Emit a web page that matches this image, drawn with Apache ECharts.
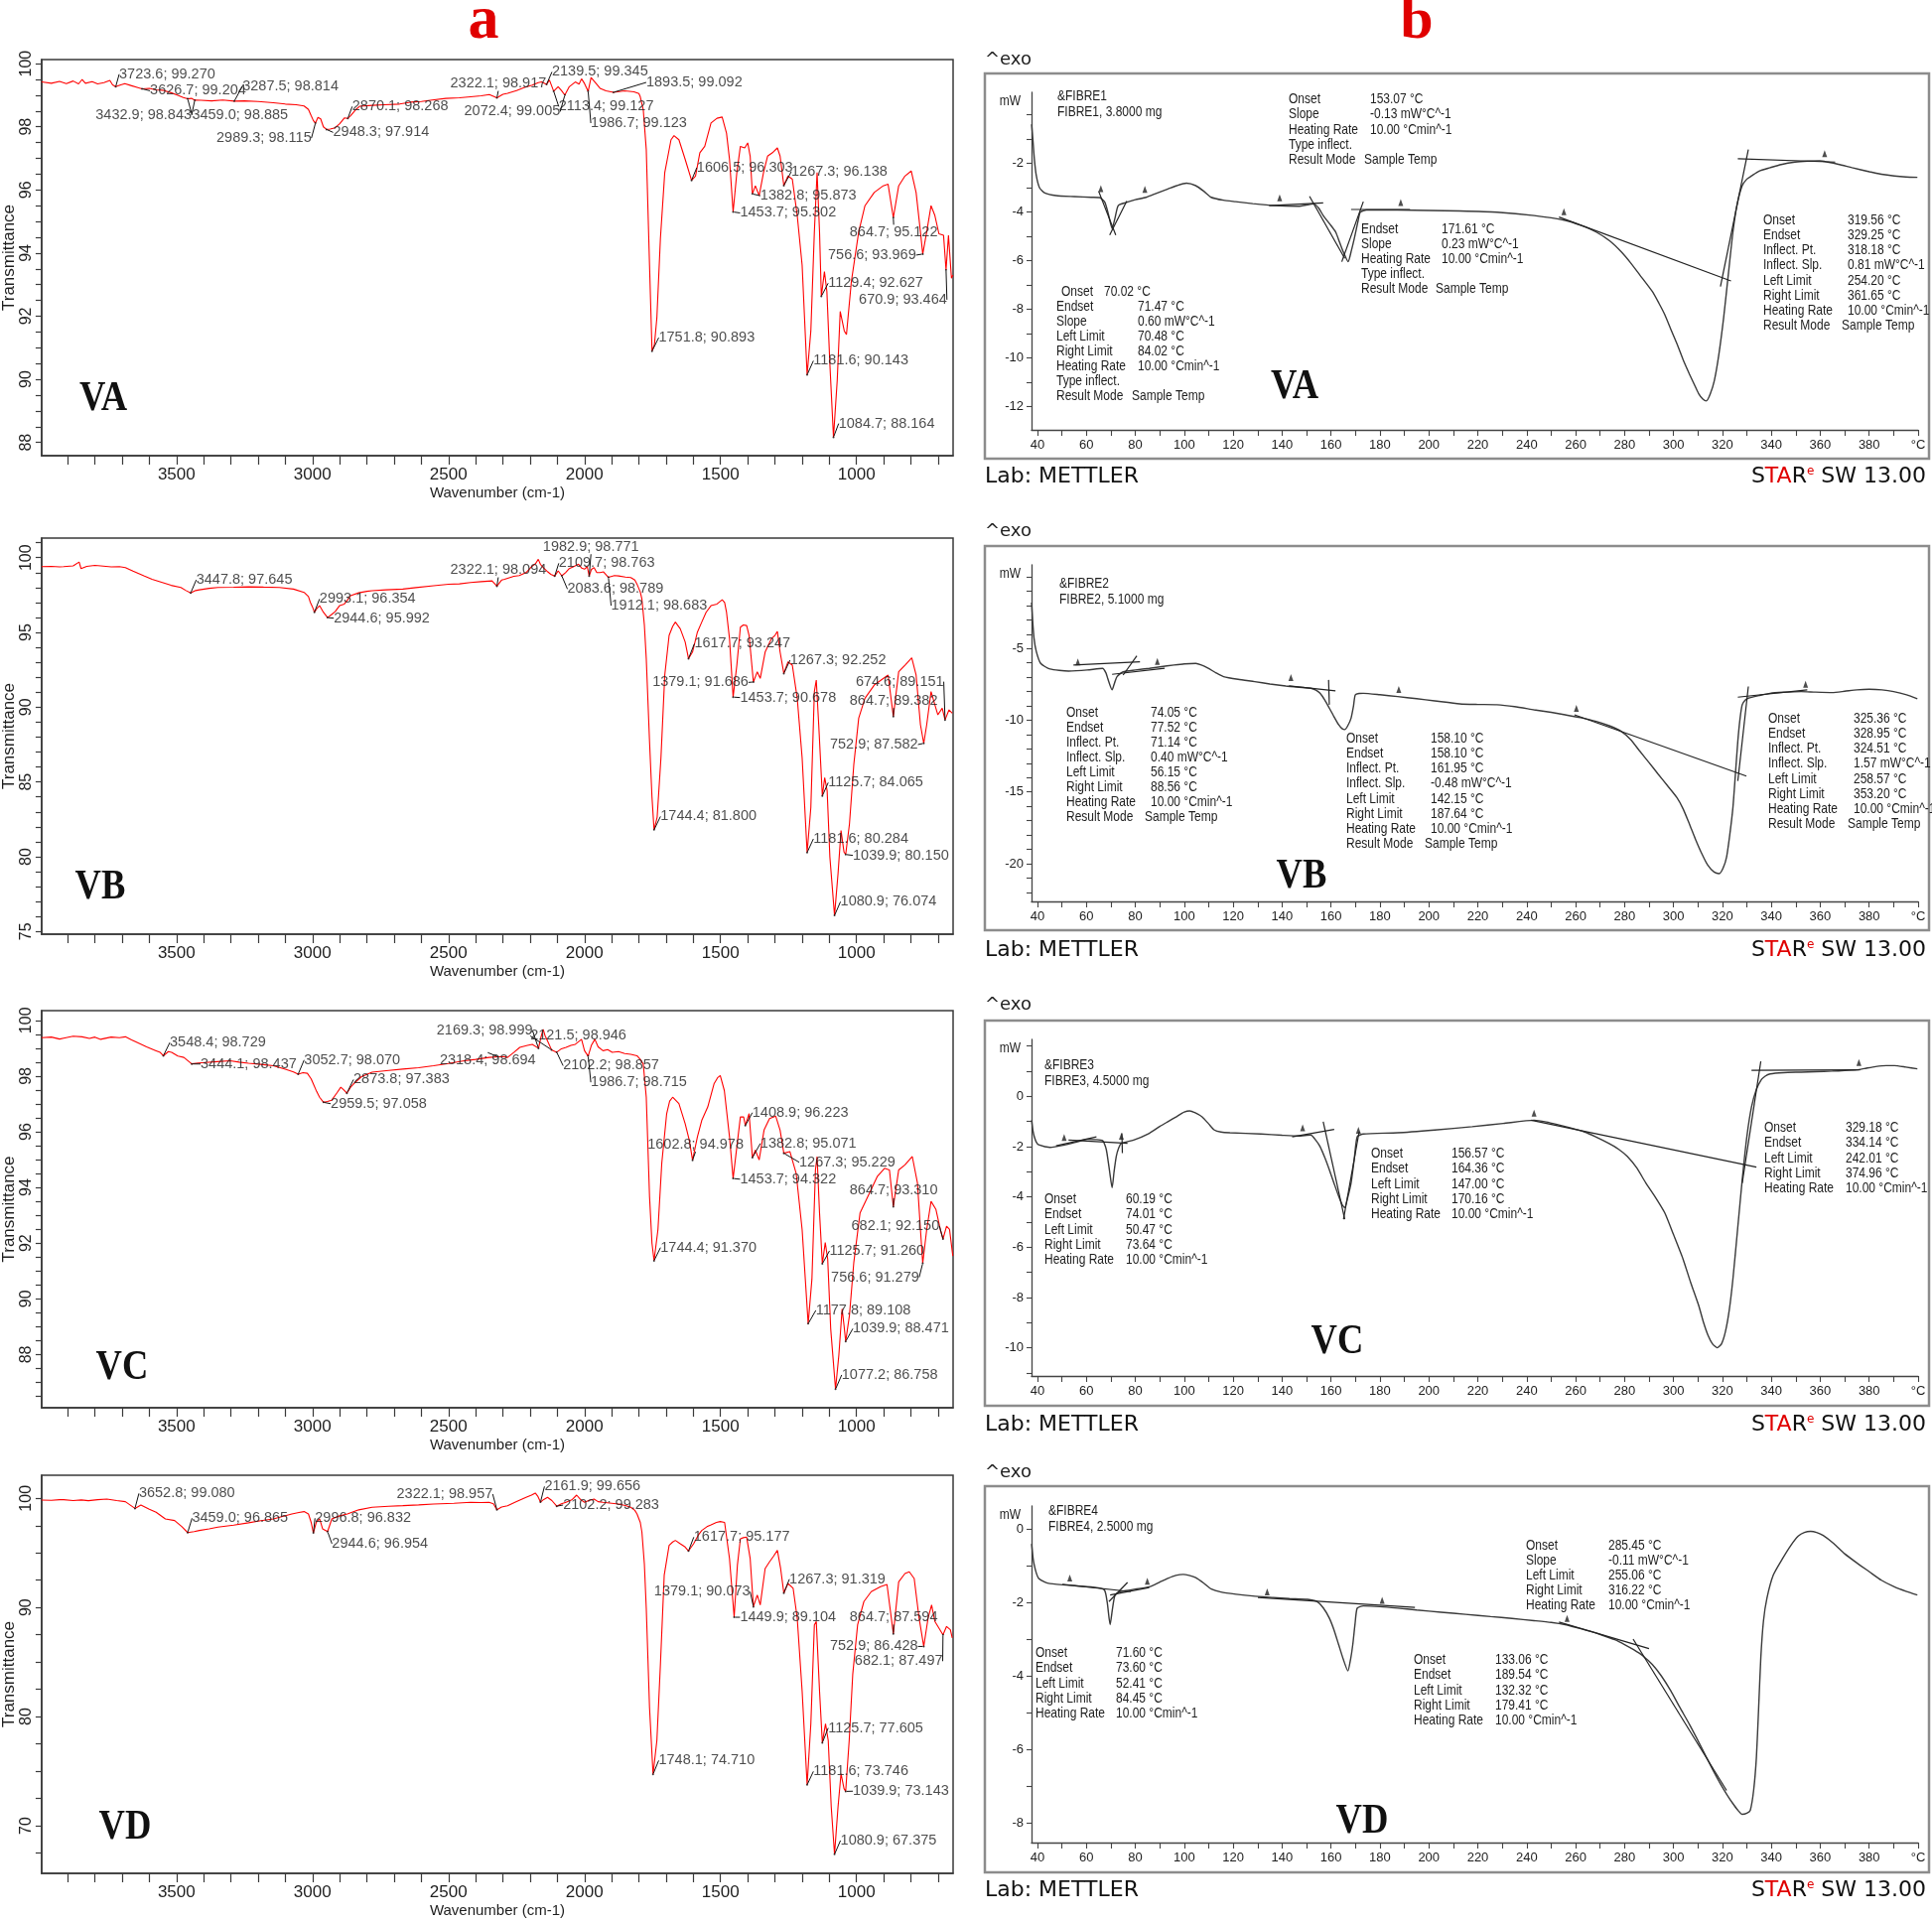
<!DOCTYPE html>
<html><head><meta charset="utf-8">
<script src="https://cdn.jsdelivr.net/npm/echarts@6/dist/echarts.min.js"></script>
<style>html,body{margin:0;padding:0;background:#fff}#c{width:1946px;height:1935px}</style>
</head><body><div id="c"></div>
<script>
// ================= DATA =================
// FTIR spectra (wavenumber cm-1, transmittance %)
const ftirA_wn = [3996,3960,3930,3905,3880,3860,3847,3835,3810,3790,3767,3745,3735,3723.6,3705,3690,3665,3645,3626.7,3600,3575,3552,3520,3495,3475,3459.0,3445,3432.9,3410,3371,3330,3287.5,3250,3200,3144,3100,3060,3031,3015,3005,2997,2989.3,2980,2970,2960,2948.3,2935,2917,2900,2883,2870.1,2860,2840,2827,2780,2736,2680,2640,2600,2560,2510,2460,2419,2380,2350,2322.1,2300,2283,2250,2220,2192,2170,2158,2139.5,2129,2113.4,2097,2085,2072.4,2056,2034,2020,2011,2000,1986.7,1976,1962,1943,1921,1893.5,1852,1818,1800,1795,1784,1773,1761,1751.8,1743,1734,1721,1705,1682,1671,1653,1630,1606.5,1592,1576,1558,1535,1513,1494,1478,1467,1453.7,1440,1427,1411,1400,1391,1382.8,1372,1358,1342,1327,1309,1291,1281,1267.3,1252,1236,1218,1200,1181.6,1168,1155,1145,1136,1129.4,1118,1109,1098,1084.7,1071,1060,1045,1037,1019,992,969,935,902,884,864.7,845,822,799,781,765,756.6,742,726,712,697,680,670.9,662,651,646];
const ftirA_T = [99.42,99.38,99.44,99.37,99.45,99.36,99.50,99.38,99.43,99.36,99.40,99.47,99.33,99.270,99.33,99.37,99.30,99.25,99.204,99.22,99.17,99.16,99.08,99.00,98.93,98.885,98.90,98.843,98.84,98.82,98.85,98.814,98.82,98.80,98.76,98.72,98.70,98.66,98.55,98.35,98.20,98.115,98.30,98.25,98.00,97.914,97.93,97.97,98.10,98.28,98.268,98.35,98.55,98.65,98.68,98.70,98.72,98.78,98.80,98.85,98.90,98.92,98.95,98.98,99.02,98.917,99.03,99.06,99.15,99.25,99.32,99.40,99.42,99.345,99.48,99.127,99.27,99.15,99.005,99.27,99.42,99.35,99.52,99.37,99.123,99.56,99.42,99.22,99.14,99.092,99.14,99.11,99.05,98.95,98.54,97.28,93.62,90.893,91.10,91.95,94.46,96.55,97.59,97.72,97.59,96.97,96.303,96.44,97.18,97.38,98.12,98.27,98.31,97.80,96.97,95.302,96.55,97.38,97.33,97.49,97.07,95.873,96.13,95.82,96.55,97.07,97.18,97.33,97.07,96.138,96.44,96.34,95.19,93.62,90.143,91.53,94.67,96.55,94.67,92.627,93.41,92.78,90.48,88.164,89.96,92.15,91.53,91.42,93.10,94.67,95.50,95.92,96.13,96.18,95.122,96.13,96.44,96.60,95.92,94.67,93.969,94.67,95.50,95.19,94.61,94.56,93.464,94.56,93.20,93.30];

const ftirB_wn = [3996,3960,3930,3915,3880,3858,3851,3830,3800,3779,3740,3710,3688,3660,3620,3590,3552,3520,3484,3465,3447.8,3430,3416,3380,3348,3290,3235,3180,3122,3070,3031,3015,3008,3000,2993.1,2984,2974,2960,2944.6,2930,2917,2900,2883,2870,2860,2830,2800,2781,2730,2668,2620,2555,2500,2460,2419,2380,2340,2322.1,2305,2294,2260,2240,2215,2195,2180,2170,2162,2152,2135,2124,2109.7,2097,2083.6,2070,2056,2040,2022,2010,2000,1990,1982.9,1975,1965,1955,1943,1930,1912.1,1890,1875,1850,1830,1815,1807,1795,1789,1780,1773,1761,1752,1744.4,1733,1719,1705,1689,1676,1666,1648,1630,1617.7,1603,1585,1569,1553,1535,1513,1494,1485,1478,1467,1453.7,1440,1427,1416,1404,1395,1379.1,1365,1354,1336,1313,1300,1291,1281,1267.3,1252,1236,1218,1200,1181.6,1168,1155,1148,1139,1125.7,1117,1108,1098,1080.9,1068,1057,1046,1039.9,1026,1010,992,969,935,902,884,864.7,845,822,797,781,765,752.9,742,726,712,701,685,674.6,660,648];
const ftirB_T = [99.40,99.42,99.38,99.40,99.45,99.71,99.27,99.42,99.48,99.45,99.38,99.40,99.34,99.10,98.78,98.55,98.34,98.15,98.01,97.80,97.645,97.80,97.85,97.95,98.01,98.02,98.05,98.03,98.01,97.90,97.68,97.40,97.01,96.70,96.354,96.60,96.79,96.35,95.992,96.20,96.39,96.80,96.90,97.20,97.46,97.65,97.75,97.79,97.85,97.90,98.00,98.12,98.22,98.25,98.34,98.40,98.45,98.094,98.50,98.56,98.75,98.80,99.00,99.40,99.60,99.89,99.55,99.34,99.05,98.89,98.763,99.12,98.789,99.00,99.27,99.40,99.56,99.30,99.23,99.40,98.771,99.20,99.34,99.00,99.00,99.05,98.683,98.80,98.78,98.70,98.67,98.50,98.23,97.70,97.23,95.50,93.25,87.72,84.00,81.800,82.64,86.62,92.15,94.80,95.40,95.69,95.24,94.36,93.247,93.69,95.02,95.69,96.35,96.79,96.90,97.19,97.00,96.35,94.58,90.678,92.81,95.35,95.50,95.46,94.80,91.686,92.37,91.93,93.69,94.58,94.80,95.07,93.69,92.252,93.03,92.81,90.60,86.62,80.284,83.29,91.04,91.81,88.83,84.065,85.29,84.40,79.98,76.074,78.87,81.75,80.31,80.150,82.19,86.17,89.27,90.60,91.48,91.92,92.15,89.382,92.37,92.81,93.30,92.15,88.83,87.582,88.83,91.04,90.16,89.49,89.93,89.151,89.82,89.60];

const ftirC_wn = [3996,3960,3930,3915,3880,3847,3820,3800,3779,3740,3710,3688,3665,3643,3610,3575,3560,3548.4,3530,3518,3495,3473,3444.1,3420,3394,3350,3303,3270,3235,3190,3144,3100,3070,3052.7,3035,3019,3005,2997,2985,2974,2959.5,2945,2930,2910,2896,2885,2873.8,2860,2849,2820,2781,2720,2668,2610,2555,2500,2442,2400,2351,2318.4,2300,2283,2260,2238,2210,2192,2169.3,2160,2152,2145,2136,2121.5,2102.2,2085,2068,2050,2034,2020,2011,2000,1986.7,1975,1962,1950,1932,1915,1898,1875,1852,1830,1807,1795,1784,1773,1761,1752,1744.4,1730,1716,1698,1687,1676,1653,1630,1615,1602.8,1585,1569,1547,1524,1510,1501,1486,1467,1453.7,1440,1427,1415,1408.9,1395,1382.8,1372,1358,1340,1320,1297,1281,1267.3,1245,1222,1200,1177.8,1164,1151,1145,1136,1125.7,1115,1106,1095,1077.2,1065,1053,1046,1039.9,1026,1010,987,958,924,897,879,864.7,845,822,795,776,765,756.6,742,726,708,692,682.1,669,658,646];
const ftirC_T = [99.38,99.40,99.33,99.36,99.43,99.41,99.35,99.40,99.32,99.40,99.38,99.41,99.30,99.20,99.05,98.91,98.85,98.729,98.88,98.85,98.72,98.67,98.437,98.47,98.49,98.52,98.55,98.50,98.46,98.42,98.37,98.25,98.15,98.070,98.12,98.10,97.90,97.72,97.45,97.24,97.058,97.09,97.13,97.40,97.60,97.50,97.383,97.60,97.72,97.98,98.14,98.20,98.25,98.30,98.37,98.45,98.55,98.60,98.67,98.694,98.70,98.67,98.85,99.03,99.10,99.14,98.999,99.40,99.68,99.45,99.26,98.946,98.857,98.98,99.03,99.10,99.14,99.25,99.32,98.91,98.715,99.10,99.32,99.05,98.91,98.95,98.85,98.88,98.81,98.78,98.73,98.60,98.43,97.24,93.68,92.00,91.370,92.49,94.87,96.65,97.10,97.24,97.01,96.29,95.70,94.978,95.82,96.41,96.89,97.72,97.95,98.02,97.48,95.82,94.322,95.46,96.53,96.53,96.223,96.65,95.071,95.34,94.99,96.06,96.47,96.56,96.06,95.229,95.29,94.51,92.49,89.108,90.71,94.63,95.11,93.09,91.260,92.02,91.43,88.93,86.758,87.98,89.64,89.05,88.471,89.41,91.31,93.09,93.68,94.39,94.69,94.63,93.310,94.63,94.81,95.11,94.16,92.49,91.279,92.49,93.50,93.21,92.49,92.150,92.61,92.49,91.54];

const ftirD_wn = [3996,3960,3930,3915,3880,3850,3824,3790,3756,3720,3688,3652.8,3631,3600,3575,3541,3507,3480,3459.0,3435,3416,3380,3348,3290,3235,3190,3144,3110,3076,3050,3031,3015,3005,2996.8,2986,2974,2963,2944.6,2929,2900,2872,2830,2781,2720,2668,2610,2555,2480,2419,2380,2351,2335,2322.1,2305,2283,2250,2215,2195,2181,2172,2161.9,2150,2136,2120,2102.2,2085,2068,2045,2029,2015,2000,1985,1965,1950,1932,1900,1875,1850,1830,1815,1807,1795,1789,1780,1773,1761,1748.1,1734,1721,1707,1689,1676,1666,1648,1630,1617.7,1599,1580,1569,1550,1535,1515,1501,1485,1478,1467,1449.9,1438,1427,1416,1404,1391,1379.1,1365,1354,1336,1320,1305,1291,1279,1267.3,1252,1233,1218,1200,1181.6,1168,1155,1148,1136,1125.7,1114,1104,1093,1080.9,1068,1057,1046,1039.9,1027,1014,996,973,946,912,888,864.7,845,822,806,788,770,752.9,737,724,712,697,682.1,669,655,648];
const ftirD_T = [99.85,99.82,99.88,99.88,99.80,99.86,99.79,99.88,99.94,99.80,99.70,99.080,99.39,99.00,98.73,98.12,97.97,97.40,96.865,96.95,97.06,97.20,97.36,97.55,97.76,97.95,98.12,98.35,98.57,98.70,98.79,98.57,97.80,96.832,97.82,98.12,97.21,96.954,98.12,98.40,98.57,98.95,99.18,99.28,99.33,99.40,99.48,99.55,99.64,99.62,99.64,99.50,98.957,99.20,99.33,99.70,100.09,100.30,100.49,100.20,99.656,99.90,100.09,99.80,99.283,99.50,99.64,99.90,100.30,99.90,99.64,99.80,99.94,99.70,99.64,99.55,99.48,99.35,99.18,98.90,98.57,97.80,96.91,94.00,89.93,80.83,74.710,77.80,84.77,92.96,95.69,96.00,96.15,95.84,95.54,95.177,95.84,96.70,97.06,97.40,97.57,97.80,97.88,97.80,97.67,94.48,89.104,93.87,96.30,96.40,96.45,94.48,90.073,91.14,90.23,93.57,94.18,94.70,95.24,93.57,91.319,92.20,91.75,89.02,82.35,73.746,79.33,88.41,88.72,82.35,77.605,79.33,77.80,71.73,67.375,71.73,74.77,73.40,73.143,77.80,83.86,88.41,90.54,91.45,91.90,92.11,87.594,92.35,93.11,93.27,92.66,89.02,86.428,89.02,90.23,88.72,88.11,87.497,88.26,87.96,87.20];

// Labelled FTIR peaks (wavenumber, transmittance)
const peaksA_wn = [3723.6,3626.7,3287.5,3432.9,3459.0,2870.1,2989.3,2948.3,2322.1,2072.4,2139.5,2113.4,1893.5,1986.7,1606.5,1267.3,1382.8,1453.7,864.7,756.6,1129.4,670.9,1751.8,1181.6,1084.7];
const peaksA_T  = [99.270,99.204,98.814,98.843,98.885,98.268,98.115,97.914,98.917,99.005,99.345,99.127,99.092,99.123,96.303,96.138,95.873,95.302,95.122,93.969,92.627,93.464,90.893,90.143,88.164];
const peaksB_wn = [3447.8,2993.1,2944.6,2322.1,1982.9,2109.7,2083.6,1912.1,1744.4,1617.7,1379.1,1453.7,1267.3,1181.6,1125.7,1080.9,1039.9,864.7,752.9,674.6];
const peaksB_T  = [97.645,96.354,95.992,98.094,98.771,98.763,98.789,98.683,81.800,93.247,91.686,90.678,92.252,80.284,84.065,76.074,80.150,89.382,87.582,89.151];
const peaksC_wn = [3548.4,3444.1,3052.7,2318.4,2959.5,2873.8,2169.3,2121.5,2102.2,1986.7,1744.4,1602.8,1408.9,1382.8,1453.7,1267.3,864.7,682.1,1125.7,756.6,1177.8,1039.9,1077.2];
const peaksC_T  = [98.729,98.437,98.070,98.694,97.058,97.383,98.999,98.946,98.857,98.715,91.370,94.978,96.223,95.071,94.322,95.229,93.310,92.150,91.260,91.279,89.108,88.471,86.758];
const peaksD_wn = [3652.8,3459.0,2996.8,2944.6,2322.1,2161.9,2102.2,1748.1,1617.7,1379.1,1449.9,1267.3,1181.6,1125.7,1039.9,1080.9,864.7,752.9,682.1];
const peaksD_T  = [99.080,96.865,96.832,96.954,98.957,99.656,99.283,74.710,95.177,90.073,89.104,91.319,73.746,77.605,73.143,67.375,87.594,86.428,87.497];

// DSC curves (temperature °C, heat flow mW)
const dscA_T  = [37.6,38.1,38.7,39.5,40.8,43,47.6,55,62,65.4,67.5,69,70.5,71.8,73,76,80,84.4,89,93.3,97,100.9,104.7,108,111,116,121,128,136.5,146.6,153,155,156.8,159.5,161.9,163.5,165,167,168.3,169.5,171,172,174.5,187.2,200,212.6,227.8,243,255.7,262,268.4,274,278.6,282.5,286.2,291.3,294,296.4,299,301.5,304,306.5,308.5,310.3,312,313.4,315,316.7,318.5,320.5,322.5,324.3,326,328.1,330,331.9,335,339.5,344,349.7,355,359.8,363,367.4,373,380.1,385,390.3,395,399.7];
const dscA_mW = [-0.40,-1.00,-1.80,-2.50,-3.00,-3.22,-3.33,-3.37,-3.40,-3.41,-3.60,-4.10,-4.69,-4.20,-3.74,-3.62,-3.50,-3.40,-3.22,-3.06,-2.92,-2.82,-2.92,-3.15,-3.40,-3.52,-3.58,-3.66,-3.74,-3.77,-3.67,-3.85,-4.15,-4.50,-4.83,-5.25,-5.64,-6.05,-5.60,-5.10,-4.40,-4.01,-3.92,-3.92,-3.94,-3.96,-4.01,-4.15,-4.35,-4.55,-4.83,-5.20,-5.64,-6.10,-6.59,-7.27,-7.75,-8.22,-8.85,-9.45,-10.10,-10.67,-11.10,-11.48,-11.70,-11.78,-11.50,-10.94,-9.90,-8.36,-6.50,-4.83,-3.70,-2.92,-2.65,-2.52,-2.32,-2.18,-2.05,-1.95,-1.91,-1.90,-1.95,-2.04,-2.18,-2.35,-2.45,-2.52,-2.56,-2.58];
const dscB_T  = [37.6,38,38.6,39.5,41.3,45.1,52.7,60.3,66.6,68,68.7,70.5,71.5,72.5,75,80,85.7,90,95.8,100,104.7,107,109.8,113,116.1,122,128.8,135,141.5,147,151.7,153.8,155.5,157.5,159.3,161.2,163.1,164.5,165.6,166.8,168.2,169.2,169.9,171.5,173.2,180,187.2,195,202.4,212.6,220,227.8,235,243,250,255.7,262,268.4,274,278.6,282.5,286.2,290,293.8,297.5,301.4,304,306.5,309,311.6,314,316.6,318.7,320.3,321.7,323,324.3,325.3,326.3,327.2,328.1,329.3,330.6,335,339.5,345,352.2,358,364.9,370,375,380,385.2,390,395.3,399.7];
const dscB_mW = [-1.8,-3.0,-4.3,-5.2,-6.04,-6.43,-6.57,-6.50,-6.38,-6.70,-7.08,-7.88,-7.40,-6.96,-6.62,-6.50,-6.38,-6.28,-6.15,-6.07,-6.04,-6.15,-6.38,-6.70,-6.96,-7.15,-7.31,-7.47,-7.61,-7.70,-7.77,-7.90,-8.12,-8.60,-9.15,-9.75,-10.31,-10.58,-10.65,-10.40,-9.85,-9.00,-8.23,-8.13,-8.12,-8.22,-8.35,-8.50,-8.65,-8.86,-8.90,-8.92,-9.05,-9.27,-9.45,-9.62,-9.82,-10.08,-10.40,-10.77,-11.35,-12.15,-12.95,-13.77,-14.55,-15.39,-16.20,-17.23,-18.30,-19.31,-20.10,-20.58,-20.69,-20.30,-19.54,-18.00,-16.08,-13.80,-11.46,-9.90,-8.92,-8.60,-8.46,-8.28,-8.12,-8.05,-8.00,-8.04,-8.07,-7.98,-7.88,-7.84,-7.88,-8.00,-8.23,-8.51];
const dscC_T  = [37.6,38.2,38.7,39.5,40.5,45.1,51.4,56,60.3,64,66.6,67.8,68.4,69.5,70.5,71.3,72.2,73.2,74.3,79.3,85.7,90,93.3,97,100,102.2,104.5,107.3,110,112.3,115,118.7,131.4,140,146.6,151.7,153.8,155.5,157.5,159.3,161.2,163.1,164.5,165.6,166.9,168.2,169.5,170.7,173.2,187.2,202.4,217.7,230.4,243,248,253.2,258,263.4,268,273.5,277.5,281.1,285,288.7,292.5,296.4,300,303.9,307,310.3,312.3,314.1,316,317.9,319.6,321.2,322.8,324.3,326.2,328.1,330,331.9,333.8,335.7,337.5,339.5,345,352.2,358,364.9,370,375,378,382.6,387,390.3,395,399.7];
const dscC_mW = [-0.95,-1.40,-1.61,-1.82,-1.93,-2.03,-1.93,-1.82,-1.71,-1.72,-1.76,-2.00,-2.26,-3.00,-3.64,-3.00,-2.39,-2.05,-1.87,-1.74,-1.47,-1.20,-1.01,-0.80,-0.63,-0.58,-0.66,-0.82,-1.10,-1.34,-1.42,-1.45,-1.50,-1.55,-1.58,-1.54,-1.75,-2.00,-2.45,-2.92,-3.45,-3.97,-4.30,-4.43,-4.00,-3.45,-2.50,-1.61,-1.50,-1.45,-1.34,-1.21,-1.08,-0.95,-1.02,-1.14,-1.26,-1.41,-1.60,-1.87,-2.10,-2.39,-2.85,-3.45,-4.00,-4.63,-5.50,-6.47,-7.40,-8.32,-9.00,-9.50,-9.85,-10.00,-9.85,-9.37,-8.50,-7.26,-5.30,-3.32,-1.60,-0.42,0.25,0.63,0.80,0.89,0.94,0.96,0.98,1.00,1.02,1.05,1.10,1.18,1.22,1.22,1.16,1.09];
const dscD_T  = [37.6,38.2,38.7,39.5,40.5,43,45.1,55.2,64.1,67.4,68.5,69.7,70.6,71.7,73.5,75.5,80,85.7,90,93.3,96.5,99.6,102,104.7,108,111.1,115,121.2,128,136.4,143,150.4,154.2,156.8,159.3,161.2,163.1,165,166.9,168,168.9,169.8,170.7,173.2,180,187.2,195,205,215,225.3,234,243,250,255.7,261,265.9,271,276,280,283.7,287.5,291.3,295,298.9,302.5,306.5,309.5,312.8,316,319.2,322,324.3,326.2,328.1,330,331.4,332.8,333.9,334.8,335.7,336.8,338.2,340.8,344.6,348,351,353.5,356.1,358.5,361.2,365.5,370,375,380.1,385,390.3,395,399.7];
const dscD_mW = [-0.41,-0.80,-0.99,-1.20,-1.35,-1.45,-1.49,-1.55,-1.60,-1.67,-2.00,-2.61,-2.20,-1.80,-1.72,-1.69,-1.64,-1.58,-1.45,-1.35,-1.27,-1.24,-1.27,-1.33,-1.48,-1.64,-1.72,-1.78,-1.83,-1.87,-1.90,-1.92,-1.98,-2.15,-2.43,-2.75,-3.15,-3.55,-3.87,-3.55,-3.15,-2.60,-2.16,-2.10,-2.12,-2.16,-2.21,-2.27,-2.33,-2.39,-2.44,-2.50,-2.55,-2.61,-2.70,-2.79,-2.90,-3.02,-3.15,-3.29,-3.46,-3.69,-4.00,-4.41,-4.85,-5.32,-5.70,-6.13,-6.55,-6.94,-7.25,-7.48,-7.65,-7.77,-7.74,-7.66,-7.10,-6.22,-4.90,-3.51,-2.50,-1.89,-1.26,-0.81,-0.45,-0.20,-0.10,-0.07,-0.10,-0.18,-0.40,-0.68,-0.93,-1.17,-1.40,-1.58,-1.70,-1.80];

// DSC evaluation tangents [T1, mW1, T2, mW2]
const tanA = [[65,-3.15,72,-4.95],[69.5,-4.95,76.5,-3.55],[134.7,-3.74,156.8,-3.63],[151.2,-3.36,165.6,-5.91],[173.2,-3.58,164.4,-6.05],[168.2,-3.9,192.3,-3.9],[253.2,-4.21,323.5,-6.84],[319.2,-7.07,330.6,-1.43],[326.3,-1.81,366.1,-1.95]];
const tanB = [[54.7,-6.15,81.9,-5.92],[70.5,-6.8,92,-6.38],[75,-6.85,80.6,-5.51],[142.8,-7.61,161.8,-7.95],[159,-7.19,159.3,-8.92],[259.5,-9.62,329.8,-13.89],[326.3,-14.23,330.6,-7.65],[326.3,-8.39,354.7,-7.88]];
const tanC = [[47.6,-1.97,64.1,-1.61],[52.7,-1.74,76.8,-1.87],[74.5,-1.47,74.7,-2.26],[144.1,-1.61,161.3,-1.32],[156.8,-1.01,165.6,-4.89],[171.5,-1.41,165.1,-4.89],[241.8,-0.95,333.9,-2.82],[328.1,-3.45,335.7,1.39],[331.9,1.03,376.3,1.05]];
const tanD = [[50.2,-1.51,78.1,-1.71],[69.7,-1.8,85.7,-1.6],[69.2,-1.98,76.8,-1.46],[130.1,-1.87,194.3,-2.14],[253.2,-2.54,290,-3.26],[283.5,-3.0,321.7,-7.12]];
// evaluation limit flags
const flagA = [[65.9,-3.17],[83.9,-3.2],[139,-3.54],[188.5,-3.74],[255.2,-4.12],[361.8,-1.73]];
const flagB = [[56.5,-6.15],[89,-6.11],[143.6,-7.24],[187.7,-8.07],[260.3,-9.38],[354,-7.7]];
const flagC = [[50.9,-1.76],[74.3,-1.71],[148.4,-1.37],[171.2,-1.47],[243,-0.79],[375.8,1.22]];
const flagD = [[53.2,-1.42],[84.9,-1.51],[133.9,-1.8],[180.9,-2.03],[256.5,-2.52]];

// Tick labels
const ftirXLabels = [1000,1500,2000,2500,3000,3500];
const ftirYLabelsA = [88,90,92,94,96,98,100];
const ftirYLabelsB = [75,80,85,90,95,100];
const ftirYLabelsC = [88,90,92,94,96,98,100];
const ftirYLabelsD = [70,80,90,100];
const dscXLabels = [40,60,80,100,120,140,160,180,200,220,240,260,280,300,320,340,360,380,400];
const dscYLabelsA = [-12,-10,-8,-6,-4,-2];
const dscYLabelsB = [-20,-15,-10,-5];
const dscYLabelsC = [-10,-8,-6,-4,-2,0];
const dscYLabelsD = [-8,-6,-4,-2,0];

// ================= LAYOUT =================
const SANS = "'Liberation Sans', Arial, sans-serif";
const SERIF = "'Liberation Serif', 'Times New Roman', serif";
const DJV = "'DejaVu Sans', sans-serif";
function range(a, b, s) { const r = []; for (let v = a; v <= b + 1e-9; v += s) r.push(Math.round(v * 100) / 100); return r; }
function zip(a, b) { return a.map((v, i) => [v, b[i]]); }

// label offsets (px) of each peak annotation relative to its peak
const offA = [[3.5,-12.6],[8,2],[8.2,-15],[-99.9,14.8],[4.4,16.1],[4.4,-11.9],[-99.7,15],[6.6,2.9],[-47,-14.5],[-101.4,16.7],[5.4,-12.5],[5.1,15.5],[33,-10],[2.7,32],[5.3,-12.8],[7.5,-14],[8,1.8],[7,1],[-44,14.7],[-95.4,1.1],[6.9,-13.3],[-87.8,30],[6.7,-13.5],[6.3,-14.1],[5.2,-13.8]];
const offB = [[5.6,-13.1],[5.2,-13.3],[6.2,0.6],[-47,-16.4],[-46.6,-29.5],[4.1,-13],[5.7,13.4],[2.7,28.5],[6.5,-13.5],[5.9,-15],[-101.7,0.4],[7,0.5],[6.2,-13.4],[6.3,-13.7],[5.9,-13.4],[6,-13.8],[7.2,0.9],[-44,-16],[-94.5,1.2],[-90,-38.5]];
const offC = [[6.5,-13.3],[8.9,0.1],[6,-14.2],[-58.6,3.3],[7.2,1.4],[6.7,-13.8],[-102.6,-17.4],[-21.3,-13.9],[6.4,13.6],[2.7,26.3],[6.5,-13.2],[-45.4,-16],[7.1,-13],[8,-14.3],[7,0.7],[15.5,9.1],[-44,-16.1],[-92.3,-13],[7.2,-13],[-92.3,14.2],[7.7,-13.4],[7.2,-12.9],[6.2,-14.3]];
const offD = [[4,-15.1],[4.4,-14.5],[1.6,-14.8],[4.4,12.2],[-101,-15.8],[4,-15.8],[6.4,-1.2],[5.7,-13.9],[5.3,-14],[-100,-15.1],[5.9,0],[5.6,-14],[6.3,-13.5],[5.9,-14.8],[7.2,-0.2],[6,-13.9],[-44,-16.7],[-94.5,0],[-89,26.6]];

const FT = [
  {wn: ftirA_wn, T: ftirA_T, pw: peaksA_wn, pT: peaksA_T, off: offA, top: 60, h: 399, yMin: 87.58, yMax: 100.13, yL: ftirYLabelsA, yT: range(88, 100, 0.5), tag: 'VA', tx: 104, ty: 402},
  {wn: ftirB_wn, T: ftirB_T, pw: peaksB_wn, pT: peaksB_T, off: offB, top: 542, h: 399, yMin: 74.82, yMax: 101.31, yL: ftirYLabelsB, yT: range(75, 101, 1), tag: 'VB', tx: 101, ty: 894},
  {wn: ftirC_wn, T: ftirC_T, pw: peaksC_wn, pT: peaksC_T, off: offC, top: 1018, h: 400, yMin: 86.09, yMax: 100.35, yL: ftirYLabelsC, yT: range(86.5, 100, 0.5), tag: 'VC', tx: 123, ty: 1378},
  {wn: ftirD_wn, T: ftirD_T, pw: peaksD_wn, pT: peaksD_T, off: offD, top: 1486, h: 401, yMin: 65.63, yMax: 102.12, yL: ftirYLabelsD, yT: range(67.5, 100, 2.5), tag: 'VD', tx: 126, ty: 1841}
];
const DS = [
  {T: dscA_T, mW: dscA_mW, tan: tanA, flag: flagA, top: 93, h: 340, yMin: -12.97, yMax: 0.92, yL: dscYLabelsA, yT: range(-12, 0, 1), box: [74, 388], exo: 60, lab: 480, tag: 'VA', tx: 1304, ty: 390, sample: ['&FIBRE1', 'FIBRE1, 3.8000 mg', 1065, 97]},
  {T: dscB_T, mW: dscB_mW, tan: tanB, flag: flagB, top: 569, h: 339, yMin: -22.63, yMax: 0.83, yL: dscYLabelsB, yT: range(-22, 0, 1), box: [550, 387], exo: 535, lab: 957, tag: 'VB', tx: 1311, ty: 883, sample: ['&FIBRE2', 'FIBRE2, 5.1000 mg', 1067, 588]},
  {T: dscC_T, mW: dscC_mW, tan: tanC, flag: flagC, top: 1047, h: 339, yMin: -11.12, yMax: 2.26, yL: dscYLabelsC, yT: range(-11, 2, 1), box: [1028, 388], exo: 1012, lab: 1435, tag: 'VC', tx: 1347, ty: 1352, sample: ['&FIBRE3', 'FIBRE3, 4.5000 mg', 1052, 1073]},
  {T: dscD_T, mW: dscD_mW, tan: tanD, flag: flagD, top: 1517, h: 339, yMin: -8.54, yMax: 0.62, yL: dscYLabelsD, yT: range(-8, 0, 1), box: [1497, 389], exo: 1483, lab: 1904, tag: 'VD', tx: 1372, ty: 1835, sample: ['&FIBRE4', 'FIBRE4, 2.5000 mg', 1056, 1522]}
];
// DSC evaluation result blocks
const notes = [
  {lx:1298, vx:1380, y:100, dy:15.2, rows:[['Onset','153.07 °C'],['Slope','-0.13 mW°C^-1'],['Heating Rate','10.00 °Cmin^-1'],['Type inflect.',''],['Result Mode','Sample Temp']]},
  {lx:1064, vx:1146, y:294, dy:15, rows:[['Onset','70.02 °C',1069,1112],['Endset','71.47 °C'],['Slope','0.60 mW°C^-1'],['Left Limit','70.48 °C'],['Right Limit','84.02 °C'],['Heating Rate','10.00 °Cmin^-1'],['Type inflect.',''],['Result Mode','Sample Temp']]},
  {lx:1371, vx:1452, y:231, dy:15, rows:[['Endset','171.61 °C'],['Slope','0.23 mW°C^-1'],['Heating Rate','10.00 °Cmin^-1'],['Type inflect.',''],['Result Mode','Sample Temp']]},
  {lx:1776, vx:1861, y:222, dy:15.1, rows:[['Onset','319.56 °C'],['Endset','329.25 °C'],['Inflect. Pt.','318.18 °C'],['Inflect. Slp.','0.81 mW°C^-1'],['Left Limit','254.20 °C'],['Right Limit','361.65 °C'],['Heating Rate','10.00 °Cmin^-1'],['Result Mode','Sample Temp']]},
  {lx:1074, vx:1159, y:718, dy:15, rows:[['Onset','74.05 °C'],['Endset','77.52 °C'],['Inflect. Pt.','71.14 °C'],['Inflect. Slp.','0.40 mW°C^-1'],['Left Limit','56.15 °C'],['Right Limit','88.56 °C'],['Heating Rate','10.00 °Cmin^-1'],['Result Mode','Sample Temp']]},
  {lx:1356, vx:1441, y:744, dy:15.1, rows:[['Onset','158.10 °C'],['Endset','158.10 °C'],['Inflect. Pt.','161.95 °C'],['Inflect. Slp.','-0.48 mW°C^-1'],['Left Limit','142.15 °C'],['Right Limit','187.64 °C'],['Heating Rate','10.00 °Cmin^-1'],['Result Mode','Sample Temp']]},
  {lx:1781, vx:1867, y:724, dy:15.1, rows:[['Onset','325.36 °C'],['Endset','328.95 °C'],['Inflect. Pt.','324.51 °C'],['Inflect. Slp.','1.57 mW°C^-1'],['Left Limit','258.57 °C'],['Right Limit','353.20 °C'],['Heating Rate','10.00 °Cmin^-1'],['Result Mode','Sample Temp']]},
  {lx:1052, vx:1134, y:1208, dy:15.3, rows:[['Onset','60.19 °C'],['Endset','74.01 °C'],['Left Limit','50.47 °C'],['Right Limit','73.64 °C'],['Heating Rate','10.00 °Cmin^-1']]},
  {lx:1381, vx:1462, y:1162, dy:15.3, rows:[['Onset','156.57 °C'],['Endset','164.36 °C'],['Left Limit','147.00 °C'],['Right Limit','170.16 °C'],['Heating Rate','10.00 °Cmin^-1']]},
  {lx:1777, vx:1859, y:1136, dy:15.3, rows:[['Onset','329.18 °C'],['Endset','334.14 °C'],['Left Limit','242.01 °C'],['Right Limit','374.96 °C'],['Heating Rate','10.00 °Cmin^-1']]},
  {lx:1537, vx:1620, y:1557, dy:15, rows:[['Onset','285.45 °C'],['Slope','-0.11 mW°C^-1'],['Left Limit','255.06 °C'],['Right Limit','316.22 °C'],['Heating Rate','10.00 °Cmin^-1']]},
  {lx:1043, vx:1124, y:1665, dy:15.2, rows:[['Onset','71.60 °C'],['Endset','73.60 °C'],['Left Limit','52.41 °C'],['Right Limit','84.45 °C'],['Heating Rate','10.00 °Cmin^-1']]},
  {lx:1424, vx:1506, y:1672, dy:15.2, rows:[['Onset','133.06 °C'],['Endset','189.54 °C'],['Left Limit','132.32 °C'],['Right Limit','179.41 °C'],['Heating Rate','10.00 °Cmin^-1']]}
];

// ================= BUILD =================
const grid = [], xAxis = [], yAxis = [], series = [], graphic = [];
const TXT = '#1e1e1e';
const NOTE_FONT = '15px ' + SANS;
const NOTE_SX = 0.8;
function txt(t, x, y, font, opt) {
  opt = opt || {};
  graphic.push({type: 'text', x: x, y: y, scaleX: opt.sx || 1, z: opt.z || 50, silent: true,
    style: Object.assign({text: t, font: font, fill: opt.fill || TXT, align: opt.align || 'left', verticalAlign: opt.va || 'middle',
      textAlign: opt.align || 'left', textVerticalAlign: opt.va || 'middle'}, opt.style || {})});
}

FT.forEach((p, i) => {
  grid.push({left: 40, width: 920, top: p.top, height: p.h, show: true, borderColor: '#3a3a3a', borderWidth: 1.5, backgroundColor: 'rgba(0,0,0,0)'});
  xAxis.push({gridIndex: i, type: 'value', inverse: true, min: 645, max: 3996,
    axisLine: {show: true, onZero: false, lineStyle: {color: '#3a3a3a', width: 1.5}},
    axisTick: {show: true, length: 9, customValues: range(700, 3900, 100), lineStyle: {color: '#3a3a3a', width: 1.2}},
    axisLabel: {customValues: ftirXLabels, fontSize: 17, fontFamily: SANS, color: TXT, margin: 11, formatter: v => String(v)},
    splitLine: {show: false},
    name: 'Wavenumber (cm-1)', nameLocation: 'middle', nameGap: 30, nameTextStyle: {fontSize: 15, fontFamily: SANS, color: TXT}});
  yAxis.push({gridIndex: i, type: 'value', min: p.yMin, max: p.yMax,
    axisLine: {show: true, onZero: false, lineStyle: {color: '#3a3a3a', width: 1.5}},
    axisTick: {show: true, length: 6, customValues: p.yT, lineStyle: {color: '#3a3a3a', width: 1.2}},
    axisLabel: {customValues: p.yL, rotate: 90, fontSize: 16, fontFamily: SANS, color: TXT, margin: 7, formatter: v => String(v)},
    splitLine: {show: false},
    name: 'Transmittance', nameLocation: 'middle', nameGap: 22, nameTextStyle: {fontSize: 17, fontFamily: SANS, color: TXT}});
  series.push({type: 'line', xAxisIndex: i, yAxisIndex: i, data: zip(p.wn, p.T), symbol: 'none', silent: true,
    lineStyle: {color: '#ff0000', width: 1.1}, z: 3});
  const off = p.off;
  series.push({type: 'scatter', xAxisIndex: i, yAxisIndex: i, z: 5, silent: true,
    data: p.pw.map((w, j) => ({value: [w, p.pT[j]], name: w.toFixed(1) + '; ' + p.pT[j].toFixed(3)})),
    symbolSize: 2, itemStyle: {color: '#111'},
    label: {show: true, formatter: q => q.name, fontSize: 14.5, fontFamily: SANS, color: TXT},
    labelLine: {show: true, lineStyle: {color: '#111', width: 1}},
    labelLayout: q => { const o = off[q.dataIndex]; const r = q.rect; return {x: r.x + r.width / 2 + o[0], y: r.y + r.height / 2 + o[1], align: 'left', verticalAlign: 'middle'}; }});
  txt(p.tag, p.tx, p.ty, 'bold 42px ' + SERIF, {align: 'center', fill: '#111', sx: 0.87});
});

DS.forEach((p, k) => {
  const i = 4 + k;
  grid.push({left: 1039, width: 893, top: p.top, height: p.h, show: false});
  xAxis.push({gridIndex: i, type: 'value', min: 37.56, max: 400,
    axisLine: {show: true, onZero: false, lineStyle: {color: '#444', width: 1.3}},
    axisTick: {show: true, length: 6, customValues: range(40, 400, 10), lineStyle: {color: '#444', width: 1.1}},
    axisLabel: {customValues: dscXLabels, fontSize: 13, fontFamily: SANS, color: TXT, margin: 9, formatter: v => (v === 400 ? '°C' : String(v))},
    splitLine: {show: false}});
  yAxis.push({gridIndex: i, type: 'value', min: p.yMin, max: p.yMax,
    axisLine: {show: true, onZero: false, lineStyle: {color: '#444', width: 1.3}},
    axisTick: {show: true, length: 5, customValues: p.yT, lineStyle: {color: '#444', width: 1.1}},
    axisLabel: {customValues: p.yL, fontSize: 13, fontFamily: SANS, color: TXT, margin: 8, formatter: v => String(v)},
    splitLine: {show: false}});
  series.push({type: 'line', xAxisIndex: i, yAxisIndex: i, data: zip(p.T, p.mW), symbol: 'none', smooth: 0.2, silent: true,
    lineStyle: {color: '#3a3a3a', width: 1.4}, z: 3});
  p.tan.forEach(t => series.push({type: 'line', xAxisIndex: i, yAxisIndex: i, data: [[t[0], t[1]], [t[2], t[3]]], symbol: 'none', silent: true,
    lineStyle: {color: '#222', width: 1.2}, z: 4}));
  series.push({type: 'scatter', xAxisIndex: i, yAxisIndex: i, data: p.flag, symbol: 'triangle', symbolSize: [5, 7], symbolOffset: [0, -3],
    itemStyle: {color: '#222'}, silent: true, z: 5});
  graphic.push({type: 'rect', shape: {x: 992, y: p.box[0], width: 951, height: p.box[1]}, z: 1, silent: true,
    style: {fill: 'none', stroke: '#8c8c8c', lineWidth: 2.5}});
  txt('^exo', 992, p.exo, '18px ' + DJV);
  txt('Lab: METTLER', 992, p.lab, '22px ' + DJV, {fill: '#111'});
  graphic.push({type: 'text', x: 1940, y: p.lab, z: 50, silent: true, style: {
    text: '{k|S}{r|TA}{k|R}{e|e}{k| SW 13.00}', align: 'right', verticalAlign: 'middle', textAlign: 'right', textVerticalAlign: 'middle',
    rich: {k: {fontSize: 22, fontFamily: DJV, fill: '#111', color: '#111'}, r: {fontSize: 22, fontFamily: DJV, fill: '#e00000', color: '#e00000'},
      e: {fontSize: 12, fontFamily: DJV, fill: '#e00000', color: '#e00000', verticalAlign: 'top'}}}});
  txt('mW', 1028, p.top + 9, NOTE_FONT, {align: 'right', sx: NOTE_SX});
  txt(p.sample[0], p.sample[2], p.sample[3], NOTE_FONT, {sx: NOTE_SX});
  txt(p.sample[1], p.sample[2], p.sample[3] + 15.5, NOTE_FONT, {sx: NOTE_SX});
  txt(p.tag, p.tx, p.ty, 'bold 42px ' + SERIF, {align: 'center', fill: '#111', sx: 0.87});
});

notes.forEach(b => {
  b.rows.forEach((r, j) => {
    const y = b.y + j * b.dy;
    const lx = r.length > 3 ? r[2] : b.lx;
    let vx = r.length > 3 ? r[3] : b.vx;
    if (r[0] === 'Result Mode') vx -= 6;
    txt(r[0], lx, y, NOTE_FONT, {sx: NOTE_SX});
    if (r[1]) txt(r[1], vx, y, NOTE_FONT, {sx: NOTE_SX});
  });
});

txt('a', 487, 22, 'bold 62px ' + SERIF, {align: 'center', fill: '#e00000'});
txt('b', 1427, 22, 'bold 60px ' + SERIF, {align: 'center', fill: '#e00000'});

const chart = echarts.init(document.getElementById('c'), null, {renderer: 'canvas'});
chart.setOption({animation: false, backgroundColor: '#ffffff', grid, xAxis, yAxis, series, graphic});
</script></body></html>
